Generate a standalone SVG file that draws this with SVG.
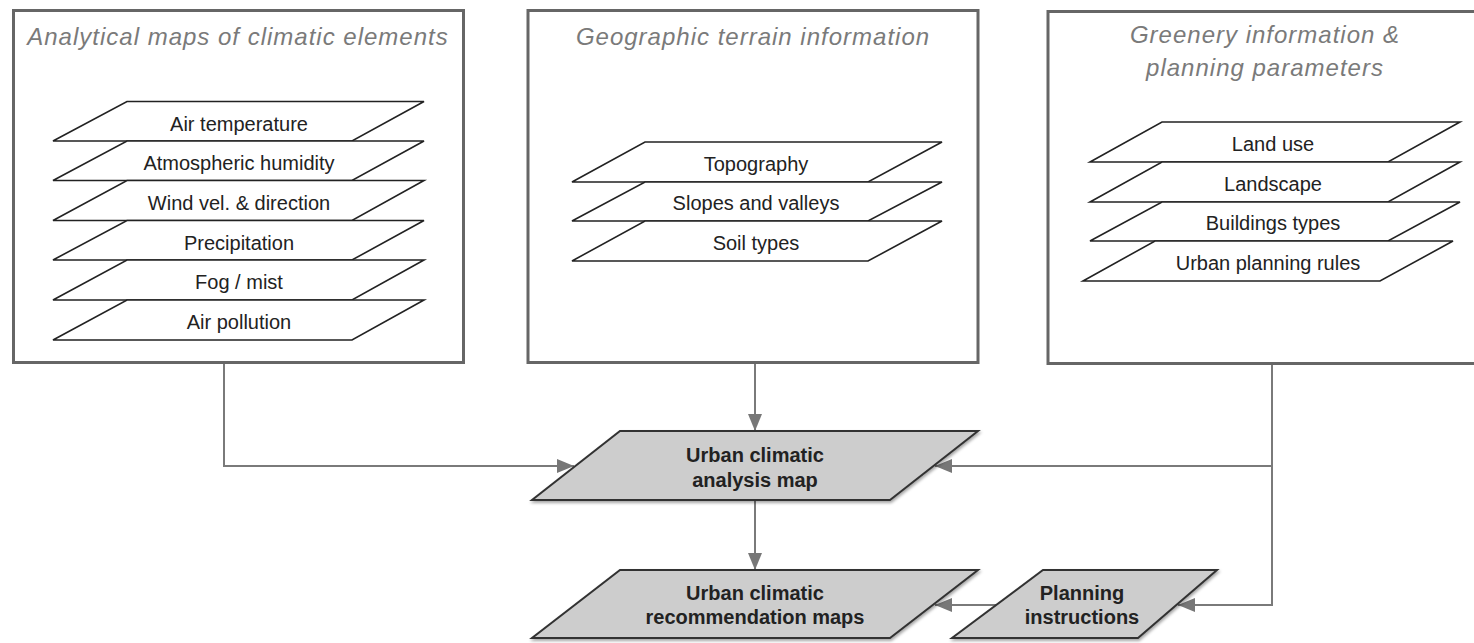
<svg xmlns="http://www.w3.org/2000/svg" width="1474" height="643" viewBox="0 0 1474 643">
<style>
.box{fill:#fff;stroke:#666;stroke-width:3}
.title{font-family:"Liberation Sans",Arial,sans-serif;font-style:italic;font-size:24px;fill:#7a7a7a;text-anchor:middle;letter-spacing:1px}
.layer{fill:#fff;stroke:#222;stroke-width:1.6;stroke-linejoin:miter}
.lt{font-family:"Liberation Sans",Arial,sans-serif;font-size:20px;fill:#222;text-anchor:middle}
.map{fill:#cdcdcd;stroke:#333;stroke-width:2;filter:url(#sh)}
.mt{font-family:"Liberation Sans",Arial,sans-serif;font-size:20px;font-weight:bold;fill:#222;text-anchor:middle}
.conn{fill:none;stroke:#7a7a7a;stroke-width:2}
</style>
<defs>
<marker id="arr" markerUnits="userSpaceOnUse" markerWidth="18" markerHeight="14" refX="17" refY="7" orient="auto">
<path d="M0,0 L17,7 L0,14 Z" fill="#777"/>
</marker>
<filter id="sh" x="-5%" y="-10%" width="110%" height="130%">
<feDropShadow dx="1" dy="2" stdDeviation="1.5" flood-color="#000" flood-opacity="0.35"/>
</filter>
</defs>
<rect width="1474" height="643" fill="#fff"/>

<g id="climatic-elements">
<rect class="box" x="13.5" y="10.5" width="450" height="352"/>
<text class="title" x="238" y="45">Analytical maps of climatic elements</text>
<polygon class="layer" points="127,101.5 424,101.5 352,141 53,141"/>
<text class="lt" x="239" y="130.5">Air temperature</text>
<polygon class="layer" points="127,141 424,141 352,180.5 53,180.5"/>
<text class="lt" x="239" y="170">Atmospheric humidity</text>
<polygon class="layer" points="127,180.5 424,180.5 352,220.5 53,220.5"/>
<text class="lt" x="239" y="209.5">Wind vel. &amp; direction</text>
<polygon class="layer" points="127,220.5 424,220.5 352,260 53,260"/>
<text class="lt" x="239" y="249.5">Precipitation</text>
<polygon class="layer" points="127,260 424,260 352,300 53,300"/>
<text class="lt" x="239" y="289">Fog / mist</text>
<polygon class="layer" points="127,300 424,300 352,340 53,340"/>
<text class="lt" x="239" y="329">Air pollution</text>
</g>

<g id="terrain">
<rect class="box" x="528" y="10.5" width="450" height="352"/>
<text class="title" x="753" y="45">Geographic terrain information</text>
<polygon class="layer" points="645,142 942,142 868,182 572,182"/>
<text class="lt" x="756" y="170.5">Topography</text>
<polygon class="layer" points="645,182 942,182 868,221 572,221"/>
<text class="lt" x="756" y="210">Slopes and valleys</text>
<polygon class="layer" points="645,221 942,221 868,261 572,261"/>
<text class="lt" x="756" y="249.5">Soil types</text>
</g>

<g id="greenery">
<rect class="box" x="1048" y="11.5" width="440" height="352"/>
<text class="title" x="1265" y="43">Greenery information &amp;</text>
<text class="title" x="1265" y="76">planning parameters</text>
<polygon class="layer" points="1162,122 1460,122 1388,162 1090,162"/>
<text class="lt" x="1273" y="150.5">Land use</text>
<polygon class="layer" points="1162,162 1460,162 1388,202 1090,202"/>
<text class="lt" x="1273" y="190.5">Landscape</text>
<polygon class="layer" points="1162,202 1460,202 1388,241 1090,241"/>
<text class="lt" x="1273" y="230">Buildings types</text>
<polygon class="layer" points="1155,241 1453,241 1380,281 1083,281"/>
<text class="lt" x="1268" y="269.5">Urban planning rules</text>
</g>

<g id="connectors">
<path class="conn" d="M224,364 V466 H574" marker-end="url(#arr)"/>
<path class="conn" d="M755,364 V431" marker-end="url(#arr)"/>
<path class="conn" d="M1272,365 V605 H1178" marker-end="url(#arr)"/>
<path class="conn" d="M1272,466 H935" marker-end="url(#arr)"/>
<path class="conn" d="M755,501 V570" marker-end="url(#arr)"/>
<path class="conn" d="M998,605 H935" marker-end="url(#arr)"/>
</g>

<g id="analysis-map">
<polygon class="map" points="620,431 978,431 890,500 532,500"/>
<text class="mt" x="755" y="462">Urban climatic</text>
<text class="mt" x="755" y="487">analysis map</text>
</g>

<g id="recommendation-maps">
<polygon class="map" points="620,570 978,570 890,638 532,638"/>
<text class="mt" x="755" y="600">Urban climatic</text>
<text class="mt" x="755" y="624">recommendation maps</text>
</g>

<g id="planning-instructions">
<polygon class="map" points="1043,570 1217,570 1138,638 952,638"/>
<text class="mt" x="1082" y="600">Planning</text>
<text class="mt" x="1082" y="624">instructions</text>
</g>
</svg>
